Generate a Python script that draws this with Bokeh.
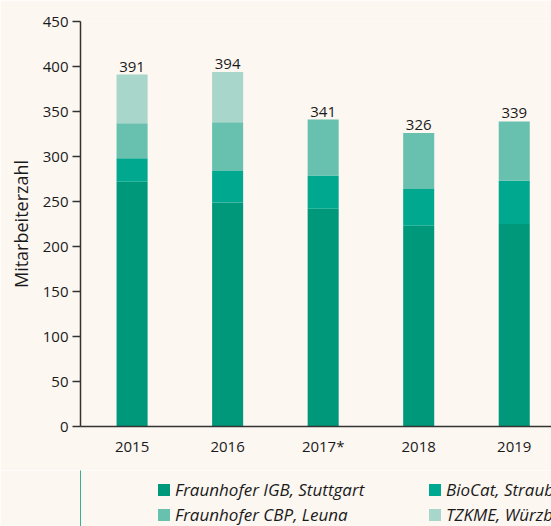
from bokeh.plotting import figure
from bokeh.layouts import column
from bokeh.models import (ColumnDataSource, Range1d, FixedTicker, Legend, LegendItem, LabelSet)
from bokeh.core.properties import value
from bokeh.embed import file_html
from bokeh.resources import INLINE

years = ["2015", "2016", "2017*", "2018", "2019"]
igb = [272, 249, 242, 223, 225]
biocat = [26, 35, 37, 41, 48]
cbp = [39, 54, 62, 62, 66]
tzkme = [54, 56, 0, 0, 0]
totals = [391, 394, 341, 326, 339]
series = ["Fraunhofer IGB, Stuttgart", "BioCat, Straubing", "Fraunhofer CBP, Leuna", "TZKME, Würzburg"]
colors = ["#00987a", "#00a88f", "#68c0ae", "#a8d6cb"]
y_ticks = [0, 50, 100, 150, 200, 250, 300, 350, 400, 450]
y_title = "Mitarbeiterzahl"

FONT = "Open Sans"
BG = "#fdf7f2"
TXT = "#1a1a1a"
AX = "#333333"
stackers = ["igb", "biocat", "cbp", "tzkme"]

xs = list(range(len(years)))
src = ColumnDataSource(dict(x=xs, year=years, igb=igb, biocat=biocat, cbp=cbp, tzkme=tzkme,
                            total=totals, lbl=[str(t) for t in totals]))

p = figure(width=551, height=470, output_backend="svg", toolbar_location=None,
           x_range=Range1d(-0.54, 4.39), y_range=Range1d(0, 450),
           min_border_left=80, min_border_right=0, min_border_top=21, min_border_bottom=44,
           background_fill_color=BG, border_fill_color=BG)
p.outline_line_color = None
p.grid.visible = False

rs = p.vbar_stack(stackers, x="x", width=0.325, source=src, color=colors, line_color=None)

# totals above the bars
p.add_layout(LabelSet(x="x", y="total", text="lbl", source=src, text_align="center",
                      text_baseline="alphabetic", y_offset=3, text_font=value(FONT),
                      text_font_size="15px", text_color=TXT))

p.xaxis.ticker = FixedTicker(ticks=xs)
p.xaxis.major_label_overrides = {i: y for i, y in enumerate(years)}
p.xaxis.major_tick_line_color = None
p.xaxis.minor_tick_line_color = None
p.xaxis.axis_line_color = AX
p.xaxis.axis_line_width = 1.5
p.xaxis.major_label_text_font = FONT
p.xaxis.major_label_text_font_size = "15px"
p.xaxis.major_label_text_color = TXT
p.xaxis.major_label_standoff = 3

p.yaxis.ticker = FixedTicker(ticks=y_ticks)
p.yaxis.minor_tick_line_color = None
p.yaxis.major_tick_out = 8
p.yaxis.major_tick_in = 0
p.yaxis.major_tick_line_color = AX
p.yaxis.major_tick_line_width = 1.5
p.yaxis.axis_line_color = AX
p.yaxis.axis_line_width = 1.5
p.yaxis.major_label_text_font = FONT
p.yaxis.major_label_text_font_size = "15px"
p.yaxis.major_label_text_color = TXT
p.yaxis.major_label_standoff = 4
p.yaxis.axis_label = y_title
p.yaxis.axis_label_text_font = FONT
p.yaxis.axis_label_text_font_size = "18px"
p.yaxis.axis_label_text_font_style = "normal"
p.yaxis.axis_label_text_color = TXT
p.yaxis.axis_label_standoff = 7

# legend strip: same stacked bars drawn outside its visible x range, only the swatches show
lf = figure(width=551, height=56, output_backend="svg", toolbar_location=None,
            x_range=Range1d(100, 101), y_range=Range1d(0, 1),
            x_axis_location=None, y_axis_location=None,
            min_border_left=0, min_border_right=0, min_border_top=0, min_border_bottom=0,
            background_fill_color=BG, border_fill_color=BG)
lf.outline_line_color = None
lf.grid.visible = False
sw = lf.vbar_stack(stackers, x="x", width=0.325, source=src, color=colors, line_color=None)

items = [LegendItem(label=series[i], renderers=[sw[i]]) for i in [0, 2, 1, 3]]
leg = Legend(items=items, ncols=2, location=(76, 0), orientation="vertical",
             glyph_width=15, glyph_height=15, label_height=20, label_standoff=4,
             label_width=250, spacing=2, padding=0, margin=0,
             border_line_color=None, background_fill_alpha=0,
             label_text_font=FONT, label_text_font_size="17px", label_text_font_style="italic",
             label_text_color=TXT)
lf.add_layout(leg, "center")

layout = column(p, lf, spacing=0)
open("out.html", "w").write(file_html(layout, INLINE))
